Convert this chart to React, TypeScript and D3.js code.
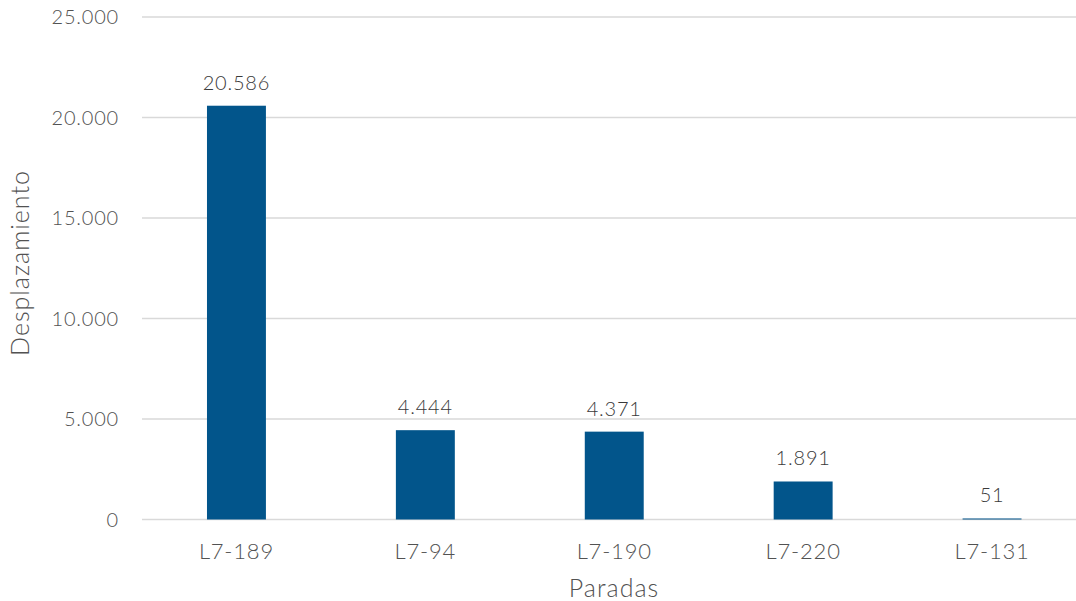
import React, { useEffect, useRef } from "react";
import * as d3 from "d3";

const categories = ["L7-189", "L7-94", "L7-190", "L7-220", "L7-131"];
const values = [20586, 4444, 4371, 1891, 51];
const yTicks = [0, 5000, 10000, 15000, 20000, 25000];
const xTitle = "Paradas";
const yTitle = "Desplazamiento";

const W = 1076;
const H = 601;
const FONT = "Lato, 'Open Sans', sans-serif";
const TEXT = "#525252";
const LABEL = "#3a3a3a";
const BAR = "#02558B";
const GRID = "#d9d9d9";

const fmt = (v: number) => d3.format(",")(v).replace(/,/g, ".");

export default function App() {
  const ref = useRef<SVGSVGElement>(null);
  useEffect(() => {
    const svg = d3.select(ref.current);
    svg.selectAll("*").remove();
    const left = 142, right = 1086.5, top = 17, bottom = 519.5;
    const x = d3.scaleBand().domain(categories).range([left, right]).paddingInner(0.688).paddingOuter(0.344);
    const y = d3.scaleLinear().domain([0, 25000]).range([bottom, top]);

    svg.append("g").selectAll("line").data(yTicks).join("line")
      .attr("x1", left).attr("x2", W).attr("y1", d => y(d)).attr("y2", d => y(d))
      .attr("stroke", GRID).attr("stroke-width", 1.5);

    svg.append("g").selectAll("text").data(yTicks).join("text")
      .attr("x", 119).attr("y", d => y(d)).attr("dy", "0.35em")
      .attr("text-anchor", "end").attr("fill", TEXT)
      .style("font-family", FONT).style("font-weight", 300).style("font-size", "20px").style("letter-spacing", "0.8px")
      .text(d => fmt(d));

    svg.append("g").selectAll("rect").data(values).join("rect")
      .attr("x", (_, i) => x(categories[i])!).attr("width", x.bandwidth())
      .attr("y", d => y(d)).attr("height", d => bottom - y(d))
      .attr("fill", BAR);

    svg.append("g").selectAll("text").data(values).join("text")
      .attr("x", (_, i) => x(categories[i])! + x.bandwidth() / 2)
      .attr("y", d => y(d) - 16)
      .attr("text-anchor", "middle").attr("fill", LABEL)
      .style("font-family", FONT).style("font-weight", 300).style("font-size", "20px").style("letter-spacing", "0.8px")
      .text(d => fmt(d));

    svg.append("g").selectAll("text").data(categories).join("text")
      .attr("x", d => x(d)! + x.bandwidth() / 2).attr("y", 559)
      .attr("text-anchor", "middle").attr("fill", TEXT)
      .style("font-family", FONT).style("font-weight", 300).style("font-size", "22px").style("letter-spacing", "0.8px")
      .text(d => d);

    svg.append("text").attr("x", 614).attr("y", 597).attr("text-anchor", "middle")
      .attr("fill", TEXT).style("font-family", FONT).style("font-weight", 300).style("font-size", "25px").style("letter-spacing", "1px")
      .text(xTitle);

    svg.append("text").attr("transform", "translate(29,263) rotate(-90)").attr("text-anchor", "middle")
      .attr("fill", TEXT).style("font-family", FONT).style("font-weight", 300).style("font-size", "25px").style("letter-spacing", "1px")
      .text(yTitle);
  }, []);
  return <svg ref={ref} width={W} height={H} style={{ display: "block", position: "absolute", left: 0, top: 0 }} />;
}
